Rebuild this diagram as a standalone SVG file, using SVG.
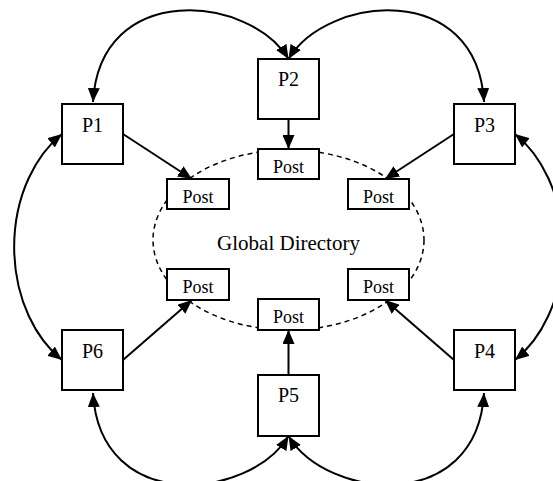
<svg xmlns="http://www.w3.org/2000/svg" width="553" height="481" viewBox="0 0 553 481">
  <style>
    .box { fill: #fff; stroke: #000; stroke-width: 2; }
    .proc { font-family: "Liberation Serif", "Times New Roman", serif; font-size: 20px; text-anchor: middle; fill: #000; }
    .post { font-family: "Liberation Serif", "Times New Roman", serif; font-size: 18px; text-anchor: middle; fill: #000; }
    .dir { font-family: "Liberation Serif", "Times New Roman", serif; font-size: 21px; text-anchor: middle; fill: #000; }
    .edge { fill: none; stroke: #000; stroke-width: 2; }
    .one { marker-end: url(#head); }
    .two { marker-start: url(#head); marker-end: url(#head); }
  </style>
  <defs>
    <marker id="head" viewBox="0 0 14 12" refX="14" refY="6" markerWidth="14" markerHeight="12" markerUnits="userSpaceOnUse" orient="auto-start-reverse">
      <path d="M0,0 L14,6 L0,12 Z" fill="#000"/>
    </marker>
  </defs>

  <!-- shared directory region -->
  <g id="directory">
    <ellipse cx="288.5" cy="240" rx="135.5" ry="90" fill="none" stroke="#000" stroke-width="1.5" stroke-dasharray="5,4"/>
    <text class="dir" x="288.5" y="250">Global Directory</text>
  </g>

  <!-- post slots on the directory -->
  <g id="post-top"><rect class="box" x="258" y="149" width="61" height="30"/><text class="post" x="288.5" y="172.5">Post</text></g>
  <g id="post-ul"><rect class="box" x="167" y="179" width="62" height="30"/><text class="post" x="198" y="202.5">Post</text></g>
  <g id="post-ur"><rect class="box" x="348" y="179" width="61" height="30"/><text class="post" x="378.5" y="202.5">Post</text></g>
  <g id="post-ll"><rect class="box" x="167" y="269" width="62" height="31"/><text class="post" x="198" y="293">Post</text></g>
  <g id="post-lr"><rect class="box" x="348" y="269" width="61" height="31"/><text class="post" x="378.5" y="293">Post</text></g>
  <g id="post-bottom"><rect class="box" x="258" y="299" width="61" height="31"/><text class="post" x="288.5" y="323">Post</text></g>

  <!-- processes -->
  <g id="P1"><rect class="box" x="62" y="104" width="61" height="60"/><text class="proc" x="92.5" y="132">P1</text></g>
  <g id="P2"><rect class="box" x="258" y="59" width="61" height="60"/><text class="proc" x="288.5" y="86">P2</text></g>
  <g id="P3"><rect class="box" x="454" y="104" width="61" height="60"/><text class="proc" x="484.5" y="132">P3</text></g>
  <g id="P4"><rect class="box" x="454" y="330" width="61" height="60"/><text class="proc" x="484.5" y="358">P4</text></g>
  <g id="P5"><rect class="box" x="258" y="375" width="61" height="61"/><text class="proc" x="288.5" y="402">P5</text></g>
  <g id="P6"><rect class="box" x="62" y="330" width="61" height="60"/><text class="proc" x="92.5" y="358">P6</text></g>

  <!-- connectors -->
  <g id="connectors">
    <!-- ring links between neighbouring processes -->
    <path class="edge two" d="M93,102 C100,-20 250,-5 288.5,59"/>
    <path class="edge two" d="M484,102 C477,-20 327,-5 288.5,59"/>
    <path class="edge two" d="M93,393 C100,515 250,500 288.5,436"/>
    <path class="edge two" d="M484,393 C477,515 327,500 288.5,436"/>
    <path class="edge two" d="M62,134 A99,132 0 0 0 62,360"/>
    <path class="edge two" d="M515,134 A99,132 0 0 1 515,360"/>
    <!-- each process writes to its post -->
    <path class="edge one" d="M288.5,119 L288.5,149"/>
    <path class="edge one" d="M123,134 L192,179"/>
    <path class="edge one" d="M454,134 L385,179"/>
    <path class="edge one" d="M123,360 L192,300"/>
    <path class="edge one" d="M454,360 L385,300"/>
    <path class="edge one" d="M288.5,375 L288.5,330"/>
  </g>
</svg>
